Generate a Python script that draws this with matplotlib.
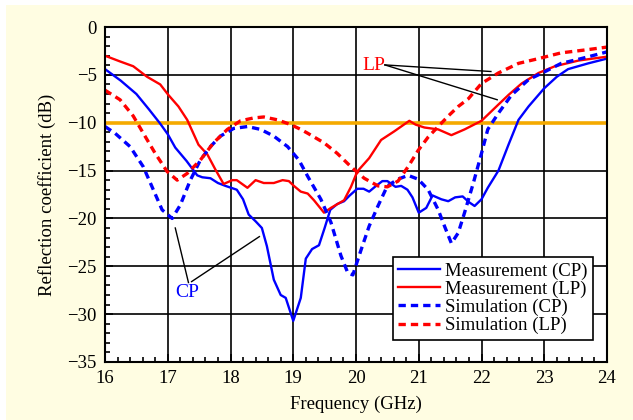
import numpy as np
import matplotlib.pyplot as plt
from matplotlib.patches import Rectangle

plt.rcParams['font.family'] = ['Liberation Serif', 'DejaVu Serif']
plt.rcParams['font.size'] = 13.5

# measurement CP
f_mcp = [16.0, 16.25, 16.5, 16.7, 16.88, 17.0, 17.12, 17.3, 17.47, 17.55, 17.68, 17.8, 17.92,
         18.1, 18.2, 18.29, 18.4, 18.5, 18.58, 18.69, 18.8, 18.88, 19.0, 19.12, 19.2, 19.3,
         19.41, 19.5, 19.59, 19.7, 19.81, 19.9, 20.02, 20.12, 20.21, 20.32, 20.42, 20.5, 20.63,
         20.72, 20.82, 20.9, 21.0, 21.12, 21.22, 21.36, 21.47, 21.58, 21.7, 21.8, 21.89, 22.0,
         22.1, 22.27, 22.43, 22.59, 22.75, 23.0, 23.2, 23.38, 23.7, 24.0]
s_mcp = [-4.4, -5.6, -7.0, -8.6, -10.1, -11.2, -12.6, -14.0, -15.5, -15.7, -15.8, -16.3, -16.6,
         -17.0, -18.0, -19.6, -20.3, -21.0, -22.9, -26.4, -28.0, -28.3, -30.7, -28.3, -24.2, -23.2,
         -22.8, -21.0, -19.1, -18.5, -18.2, -17.6, -16.9, -16.9, -17.2, -16.6, -16.1, -16.1, -16.7,
         -16.6, -17.0, -17.8, -19.4, -18.9, -17.6, -18.0, -18.2, -17.8, -17.7, -18.3, -18.7, -18.0,
         -16.8, -15.0, -12.3, -9.7, -8.3, -6.4, -5.2, -4.4, -3.8, -3.3]

# measurement LP
f_mlp = [16.0, 16.24, 16.45, 16.67, 16.88, 17.01, 17.17, 17.31, 17.4, 17.49, 17.63, 17.76, 17.89,
         18.03, 18.1, 18.27, 18.4, 18.53, 18.69, 18.83, 18.93, 19.01, 19.12, 19.23, 19.33, 19.49,
         19.6, 19.81, 19.92, 20.02, 20.21, 20.4, 20.61, 20.85, 20.95, 21.09, 21.31, 21.52, 21.73,
         22.0, 22.27, 22.43, 22.64, 22.91, 23.17, 23.55, 24.0]
s_mlp = [-3.0, -3.6, -4.1, -5.2, -6.0, -7.1, -8.3, -9.7, -11.0, -12.3, -13.3, -14.9, -16.4,
         -16.0, -16.0, -16.8, -16.0, -16.3, -16.3, -16.0, -16.1, -16.6, -17.2, -17.4, -18.1, -19.4,
         -18.9, -18.1, -16.7, -15.1, -13.7, -11.8, -10.9, -9.8, -10.2, -10.5, -10.7, -11.3, -10.7,
         -9.8, -8.1, -7.1, -5.9, -4.8, -4.1, -3.5, -3.1]

# simulation CP
f_scp = [16.0, 16.16, 16.4, 16.61, 16.77, 16.91, 17.07, 17.2, 17.36, 17.52, 17.68, 17.84, 18.05,
         18.27, 18.48, 18.69, 18.91, 19.09, 19.23, 19.44, 19.6, 19.76, 19.87, 19.95, 20.08, 20.21,
         20.35, 20.5, 20.67, 20.83, 20.99, 21.15, 21.31, 21.41, 21.52, 21.63, 21.73, 21.87, 22.0,
         22.1, 22.27, 22.48, 22.75, 23.0, 23.27, 23.59, 24.0]
s_scp = [-10.4, -11.1, -12.5, -14.6, -17.0, -19.1, -20.0, -18.6, -16.0, -13.9, -12.5, -11.4, -10.6,
         -10.4, -10.7, -11.4, -12.5, -13.9, -15.6, -18.0, -20.4, -23.9, -25.7, -25.9, -23.3, -20.8,
         -18.7, -16.6, -15.9, -15.5, -15.9, -17.0, -19.1, -20.8, -22.6, -21.5, -19.4, -16.3, -13.2,
         -10.7, -9.0, -7.1, -5.5, -4.7, -3.8, -3.3, -2.6]

# simulation LP
f_slp = [16.0, 16.24, 16.45, 16.61, 16.8, 16.99, 17.15, 17.31, 17.52, 17.73, 17.95, 18.16, 18.37,
         18.53, 18.75, 18.96, 19.12, 19.23, 19.49, 19.7, 19.92, 20.13, 20.35, 20.5, 20.67, 20.83,
         20.99, 21.15, 21.31, 21.47, 21.63, 21.79, 22.0, 22.27, 22.59, 22.91, 23.27, 23.65, 24.0]
s_slp = [-6.6, -7.6, -9.3, -11.1, -13.2, -15.1, -16.0, -15.3, -13.9, -12.1, -10.7, -9.8, -9.5,
         -9.4, -9.7, -10.2, -10.7, -11.1, -12.1, -13.2, -14.6, -15.8, -16.6, -16.7, -16.1, -14.6,
         -12.9, -11.5, -10.4, -9.3, -8.3, -7.5, -5.9, -4.8, -3.8, -3.3, -2.7, -2.4, -2.1]

threshold = -10

fig = plt.figure(figsize=(6.33, 4.2), dpi=100)
fig.patch.set_facecolor('white')
fig.patches.append(Rectangle((6/633, 0), 1, 1 - 5/420, transform=fig.transFigure,
                             facecolor='#fffde2', edgecolor='none', zorder=-10))
ax = fig.add_axes([105/633, 1 - 362/420, 502/633, 335/420])

ax.grid(True, color='black', lw=1.2)
ax.set_axisbelow(True)
ax.axhline(threshold, color='#f5aa00', lw=2.6, zorder=1.5)

ax.plot(f_mcp, s_mcp, color='#0000ff', lw=1.7, label='Measurement (CP)')
ax.plot(f_mlp, s_mlp, color='#ff0000', lw=1.7, label='Measurement (LP)')
ax.plot(f_scp, s_scp, color='#0000ff', lw=2.4, dashes=(2.2, 1.5), label='Simulation (CP)')
ax.plot(f_slp, s_slp, color='#ff0000', lw=2.4, dashes=(2.2, 1.5), label='Simulation (LP)')

# annotations
ax.text(17.31, -27.7, 'CP', color='#0000ff', ha='center', va='center', fontsize=14)
ax.plot([17.33, 17.12], [-26.7, -21.0], color='black', lw=1)
ax.plot([17.38, 18.46], [-26.6, -21.9], color='black', lw=1)
ax.text(20.28, -4.0, 'LP', color='#ff0000', ha='center', va='center', fontsize=14)
ax.plot([20.46, 22.15], [-3.96, -4.65], color='black', lw=1)
ax.plot([20.46, 22.25], [-3.96, -7.6], color='black', lw=1)

ax.set_xlim(16, 24)
ax.set_ylim(-35, 0)
ax.set_xticks(np.arange(16, 25, 1))
ax.set_yticks(np.arange(-35, 1, 5))
ax.set_xticks(np.arange(16, 24.01, 0.2), minor=True)
ax.set_yticks(np.arange(-35, 0.01, 1), minor=True)
ax.tick_params(which='both', direction='in', top=False, right=False, width=1.2)
ax.tick_params(which='major', length=6, pad=6)
ax.tick_params(which='minor', length=3.5)
for sp in ax.spines.values():
    sp.set_linewidth(1.5)

ax.set_xlabel('Frequency (GHz)', labelpad=6)
ax.set_ylabel('Reflection coefficient (dB)', labelpad=8)

leg = ax.legend(loc='lower right', bbox_to_anchor=(0.973, 0.066), borderaxespad=0,
                fancybox=False, edgecolor='black', framealpha=1, handlelength=2.2,
                handletextpad=0.3, labelspacing=0.05, borderpad=0.3, fontsize=13.5)
leg.get_frame().set_linewidth(1.2)

fig.savefig('out.png', dpi=100)
